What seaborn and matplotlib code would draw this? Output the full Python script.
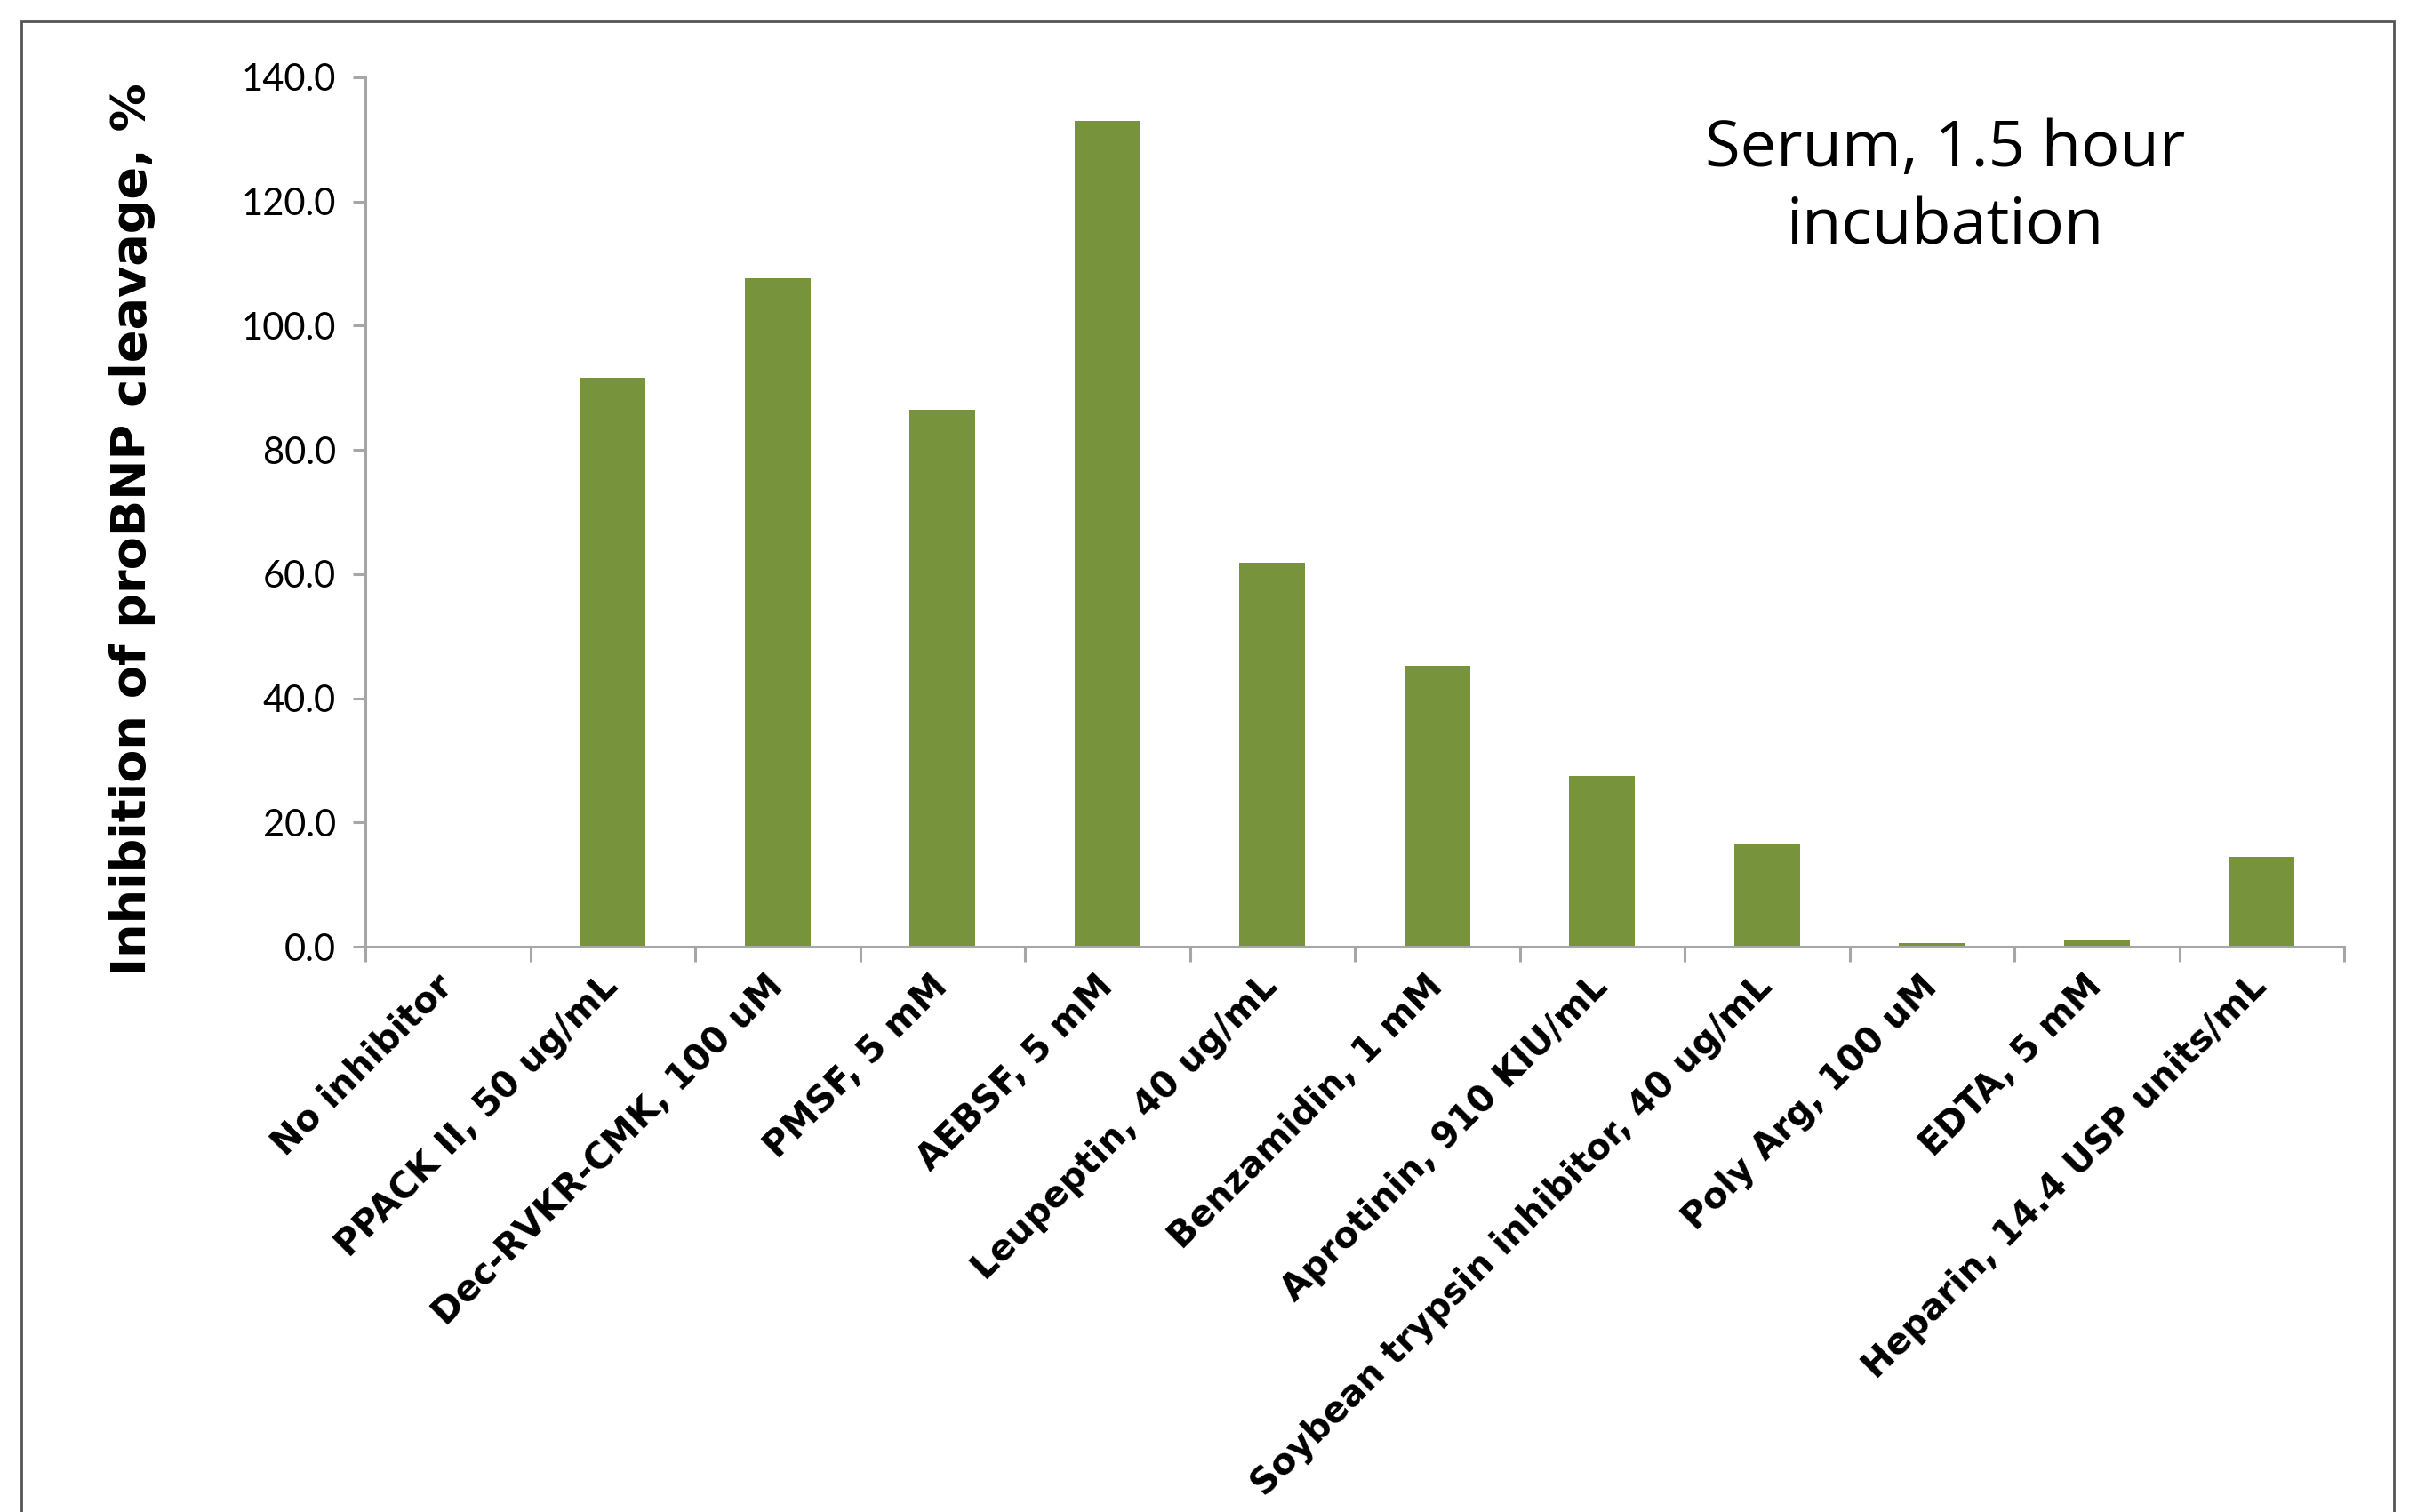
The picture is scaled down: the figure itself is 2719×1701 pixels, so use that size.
import matplotlib
matplotlib.use("Agg")
import matplotlib.pyplot as plt
import matplotlib.patches as mpatches
import seaborn as sns
import pandas as pd

# Inhibitor treatments and measured inhibition (%)
inhibitors = [
    "No inhibitor",
    "PPACK II, 50 ug/mL",
    "Dec-RVKR-CMK, 100 uM",
    "PMSF, 5 mM",
    "AEBSF, 5 mM",
    "Leupeptin, 40 ug/mL",
    "Benzamidin, 1 mM",
    "Aprotinin, 910 KIU/mL",
    "Soybean trypsin inhibitor, 40 ug/mL",
    "Poly Arg, 100 uM",
    "EDTA, 5 mM",
    "Heparin, 14.4 USP units/mL",
]
inhibition = [0.0, 91.6, 107.7, 86.4, 133.0, 61.8, 45.2, 27.5, 16.4, 0.6, 1.0, 14.4]
y_ticks = [0, 20, 40, 60, 80, 100, 120, 140]

df = pd.DataFrame({"inhibitor": inhibitors, "inhibition": inhibition})

sns.set_theme(style="white")
plt.rcParams["font.family"] = ["DejaVu Sans"]

W, H = 2719, 1701
fig = plt.figure(figsize=(W / 100, H / 100), dpi=100)
ax = fig.add_axes([411 / W, 1 - 1065 / H, (2637 - 411) / W, (1065 - 87) / H])

bar_color = "#77933C"
axis_gray = "#A6A6A6"

sns.barplot(data=df, x="inhibitor", y="inhibition", color=bar_color,
            width=0.4, saturation=1, ax=ax, edgecolor="none")

ax.set_xlim(-0.5, len(inhibitors) - 0.5)
ax.set_ylim(0, 140)
ax.set_yticks(y_ticks)
ax.set_yticklabels([f"{v:.1f}" for v in y_ticks], fontsize=30,
                   family=["Lato", "DejaVu Sans"], fontweight="normal",
                   color="black")

# category labels rotated, anchored at their right end under each bar
ax.set_xticks(range(len(inhibitors)))
ax.set_xticklabels(inhibitors, rotation=45, ha="right", va="center",
                   rotation_mode="anchor", fontsize=29, fontweight="bold",
                   color="black")
ax.tick_params(axis="x", length=0, pad=28)

# boundary tick marks between categories
for xb in [i - 0.5 for i in range(len(inhibitors) + 1)]:
    ax.plot([xb, xb], [0, -0.017], transform=ax.get_xaxis_transform(),
            color=axis_gray, lw=2.2, clip_on=False, solid_capstyle="butt")

ax.tick_params(axis="y", length=10, width=2.2, color=axis_gray, pad=14,
               direction="out", left=True)

for side in ["top", "right"]:
    ax.spines[side].set_visible(False)
for side in ["left", "bottom"]:
    ax.spines[side].set_color(axis_gray)
    ax.spines[side].set_linewidth(2.2)

ax.set_xlabel("")
ax.set_ylabel("")
ax.grid(False)

fig.text(149 / W, 1 - 595 / H, "Inhibition of proBNP cleavage, %",
         rotation=90, ha="center", va="center", fontsize=39,
         fontweight="bold", color="black")

fig.text(2188 / W, 1 - 212 / H, "Serum, 1.5 hour\nincubation",
         ha="center", va="center", multialignment="center",
         fontsize=52, family=["Open Sans", "DejaVu Sans"],
         linespacing=1.3, color="black")

# slide frame
frame = mpatches.Rectangle((24 / W, -0.05), (2693 - 24) / W, 1 - 24 / H + 0.05,
                           transform=fig.transFigure, fill=False,
                           edgecolor="#555555", lw=2.0)
fig.add_artist(frame)

fig.savefig("out.png", dpi=100, facecolor="white")
